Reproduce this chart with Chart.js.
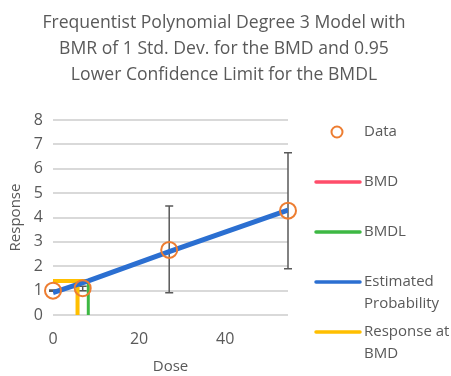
<!DOCTYPE html>
<html>
<head>
<meta charset="utf-8">
<script src="https://cdn.jsdelivr.net/npm/chart.js@4/dist/chart.umd.min.js"></script>
<style>
  html, body { margin: 0; padding: 0; background: #fff; }
  #wrap { width: 451px; height: 376px; }
</style>
</head>
<body>
<div id="wrap"><canvas id="bmd"></canvas></div>
<script>
// ── Data ─────────────────────────────────────────────
const titleLines = [
  'Frequentist Polynomial Degree 3 Model with',
  'BMR of 1 Std. Dev. for the BMD and 0.95',
  'Lower Confidence Limit for the BMDL'
];

const doses     = [0, 6.9, 27, 54.6];
const responses = [1.0, 1.1, 2.67, 4.28];
const errLow    = [0.97, 1.0, 0.91, 1.9];
const errHigh   = [1.03, 1.18, 4.47, 6.66];

const fitDoses  = [0, 8.2, 27, 54.6];
const fitResp   = [0.92, 1.4, 2.6, 4.3];

const bmdX  = [5.7, 5.7];
const bmdY  = [0, 1.4];
const bmdlX = [8.2, 8.2];
const bmdlY = [0, 1.4];
// horizontal run at the BMD response, then the drop to the axis
const respX = [0, 8.4, null, 5.7, 5.7];
const respY = [1.4, 1.4, null, 1.4, 0];

const yTicks = [0, 1, 2, 3, 4, 5, 6, 7, 8];
const xTicks = [0, 20, 40];

const legendItems = [
  { text: ['Data'],                    color: '#ED7D31', kind: 'circle' },
  { text: ['BMD'],                     color: '#FF4D6A', kind: 'line' },
  { text: ['BMDL'],                    color: '#3DB843', kind: 'line' },
  { text: ['Estimated', 'Probability'], color: '#2B6FD1', kind: 'line' },
  { text: ['Response at', 'BMD'],       color: '#FFBF00', kind: 'line' },
];

const FONT = "'Open Sans', sans-serif";
const INK  = '#595959';

const pts = (xs, ys) => xs.map((x, i) => (x === null ? { x: NaN, y: null } : { x, y: ys[i] }));

// ── Plugins ──────────────────────────────────────────
const errorBars = {
  id: 'errorBars',
  beforeDatasetsDraw(chart) {
    const { ctx, scales: { x, y } } = chart;
    ctx.save();
    ctx.strokeStyle = INK;
    ctx.lineWidth = 1.5;
    doses.forEach((d, i) => {
      const px = x.getPixelForValue(d);
      const top = y.getPixelForValue(errHigh[i]);
      const bot = y.getPixelForValue(errLow[i]);
      ctx.beginPath();
      ctx.moveTo(px, top); ctx.lineTo(px, bot);
      ctx.moveTo(px - 4, top); ctx.lineTo(px + 4, top);
      ctx.moveTo(px - 4, bot); ctx.lineTo(px + 4, bot);
      ctx.stroke();
    });
    ctx.restore();
  }
};

const decor = {
  id: 'decor',
  afterDraw(chart) {
    const ctx = chart.ctx;
    ctx.save();
    ctx.fillStyle = INK;
    ctx.textBaseline = 'middle';

    // title
    ctx.font = `17.6px ${FONT}`;
    ctx.textAlign = 'center';
    titleLines.forEach((t, i) => ctx.fillText(t, 224, 23 + i * 26));

    // legend
    ctx.font = `15px ${FONT}`;
    ctx.textAlign = 'left';
    legendItems.forEach((it, i) => {
      const cy = 132 + i * 50;
      if (it.kind === 'circle') {
        ctx.strokeStyle = it.color;
        ctx.lineWidth = 2;
        ctx.beginPath();
        ctx.arc(337, cy, 5.5, 0, Math.PI * 2);
        ctx.stroke();
      } else {
        ctx.strokeStyle = it.color;
        ctx.lineWidth = 3.5;
        ctx.lineCap = 'round';
        ctx.beginPath();
        ctx.moveTo(316, cy); ctx.lineTo(360, cy);
        ctx.stroke();
      }
      it.text.forEach((t, j) => ctx.fillText(t, 364, cy + j * 22));
    });
    ctx.restore();
  }
};

// ── Chart ────────────────────────────────────────────
new Chart(document.getElementById('bmd'), {
  type: 'scatter',
  data: {
    datasets: [
      {
        label: 'Data',
        data: pts(doses, responses),
        showLine: false,
        clip: false,
        pointStyle: 'circle',
        pointRadius: 8,
        pointBorderWidth: 2,
        pointBorderColor: '#ED7D31',
        pointBackgroundColor: 'rgba(0,0,0,0)',
        order: 0,
      },
      {
        label: 'Estimated Probability',
        data: pts(fitDoses, fitResp),
        showLine: true,
        borderColor: '#2B6FD1',
        borderWidth: 5,
        pointRadius: 0,
        order: 1,
      },
      {
        label: 'Response at BMD',
        data: pts(respX, respY),
        showLine: true,
        spanGaps: false,
        borderColor: '#FFBF00',
        borderWidth: 4,
        pointRadius: 0,
        order: 2,
      },
      {
        label: 'BMDL',
        data: pts(bmdlX, bmdlY),
        showLine: true,
        borderColor: '#3DB843',
        borderWidth: 3,
        pointRadius: 0,
        order: 3,
      },
      {
        label: 'BMD',
        data: pts(bmdX, bmdY),
        showLine: true,
        borderColor: '#FF4D6A',
        borderWidth: 3,
        pointRadius: 0,
        order: 4,
      },
    ],
  },
  options: {
    responsive: true,
    maintainAspectRatio: false,
    animation: false,
    layout: { padding: { top: 120, right: 163, left: 0, bottom: 0 } },
    plugins: {
      legend: { display: false },
      tooltip: { enabled: false },
    },
    scales: {
      x: {
        type: 'linear',
        min: 0,
        max: 54.6,
        afterFit: s => { s.height = 61; },
        afterBuildTicks: s => { s.ticks = xTicks.map(v => ({ value: v })); },
        grid: { display: false },
        border: { display: false },
        ticks: { color: INK, padding: 7, font: { family: FONT, size: 16 } },
        title: { display: true, text: 'Dose', color: INK, padding: 0, font: { family: FONT, size: 15 } },
      },
      y: {
        min: 0,
        max: 8,
        afterFit: s => { s.width = 53; },
        afterBuildTicks: s => { s.ticks = yTicks.map(v => ({ value: v })); },
        grid: { color: '#d9d9d9', lineWidth: 2, drawTicks: false },
        border: { display: false },
        ticks: { color: INK, padding: 10, font: { family: FONT, size: 16 } },
        title: { display: true, text: 'Response', color: INK, padding: 7, font: { family: FONT, size: 15 } },
      },
    },
  },
  plugins: [errorBars, decor],
});
</script>
</body>
</html>
